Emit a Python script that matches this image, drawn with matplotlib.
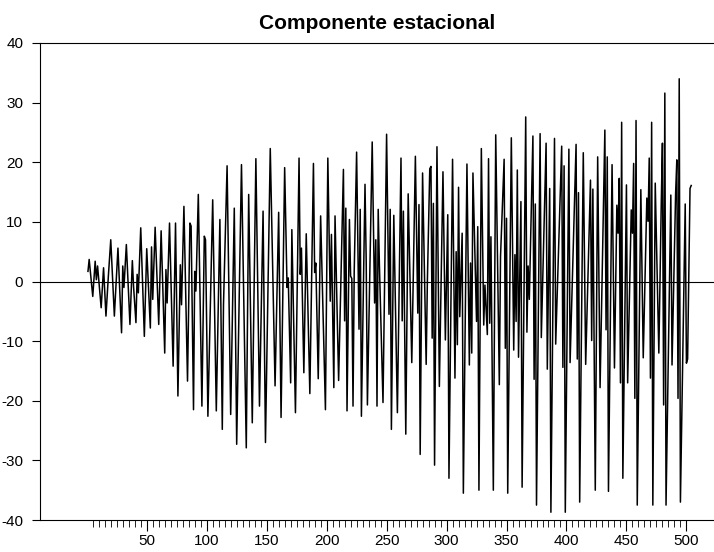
import matplotlib
matplotlib.use("Agg")
import matplotlib.pyplot as plt
from matplotlib.ticker import FixedLocator

plt.rcParams['font.family'] = ['Liberation Sans', 'DejaVu Sans']
plt.rcParams['axes.unicode_minus'] = False

# turning points of the seasonal component (observation number, value)
obs = [1, 2, 5, 7, 8, 9, 12, 14, 16, 18, 20, 23, 26, 29, 30, 31, 33, 36, 38, 39,
       41, 42, 43, 45, 48, 50, 53, 54, 55, 57, 60, 62, 65, 66, 67, 69, 72, 74, 76, 78,
       79, 81, 84, 86, 87, 89, 90, 91, 93, 96, 98, 99, 101, 105, 108, 111, 113, 114, 117, 120,
       123, 125, 129, 133, 135, 138, 141, 144, 147, 149, 153, 157, 160, 162, 165, 167, 168, 170, 171, 174,
       177, 178, 179, 181, 183, 186, 189, 190, 191, 193, 195, 199, 201, 203, 204, 206, 207, 210, 214, 215,
       216, 217, 219, 220, 221, 222, 223, 225, 227, 228, 229, 232, 233, 234, 238, 240, 241, 242, 243, 244,
       247, 250, 252, 253, 254, 256, 259, 262, 263, 264, 266, 268, 271, 274, 276, 277, 278, 280, 283, 284,
       286, 287, 288, 289, 290, 292, 294, 297, 299, 301, 302, 305, 307, 308, 309, 310, 311, 313, 314, 317,
       319, 320, 321, 322, 325, 326, 327, 329, 331, 332, 334, 335, 336, 337, 339, 341, 344, 345, 348, 349,
       350, 351, 354, 356, 357, 358, 359, 360, 362, 363, 366, 367, 368, 369, 372, 373, 374, 375, 378, 379,
       383, 384, 386, 387, 390, 391, 396, 397, 398, 399, 402, 403, 408, 409, 410, 411, 414, 416, 420, 421,
       422, 424, 426, 428, 432, 433, 434, 435, 438, 440, 442, 443, 444, 445, 446, 447, 450, 451, 454, 455,
       456, 457, 458, 459, 462, 464, 467, 468, 469, 470, 471, 472, 474, 477, 479, 480, 481, 482, 483, 487,
       488, 491, 492, 493, 494, 495, 499, 500, 501, 503, 504]
seasonal = [1.7, 3.7, -2.5, 3.4, 0.3, 2.6, -4.4, 2.3, -5.8, 0.9, 7.0, -5.8, 5.6, -8.6, 2.6, -1.0, 6.2, -7.2, 3.5, -0.8,
            -6.9, 1.2, -1.9, 9.0, -9.2, 5.5, -7.8, 5.8, -3.0, 9.1, -7.2, 8.5, -12.0, 2.0, -3.6, 9.8, -14.2, 9.8, -19.2, 2.8,
            -3.9, 12.6, -16.7, 9.8, 9.3, -21.5, 1.7, -1.6, 14.6, -20.9, 7.6, 7.0, -22.6, 13.7, -21.7, 10.4, -24.8, -3.9, 19.4, -22.3,
            12.3, -27.3, 19.6, -27.9, 14.6, -23.7, 20.6, -20.9, 11.8, -27.0, 22.3, -17.5, 11.6, -22.8, 19.1, -1.0, 0.6, -17.0, 8.7, -22.0,
            20.7, 1.2, 5.6, -15.3, 8.0, -18.8, 19.8, 1.5, 3.1, -16.3, 11.0, -21.5, 20.7, -3.3, 7.9, -17.8, 11.0, -16.6, 18.8, -6.6,
            12.3, -21.7, 10.4, 0.9, 0.5, -20.9, 1.7, 21.7, -8.0, 12.1, -22.6, 16.3, 3.4, -20.7, 23.4, -3.6, 7.0, -20.9, 12.1, 2.8,
            -20.3, 24.7, -5.5, 12.1, -24.8, 11.1, -22.0, 20.7, -6.6, 11.8, -25.6, 14.7, -13.6, 21.0, -5.3, 12.9, -29.0, 18.2, -13.9, 0.0,
            18.9, 19.3, -9.5, 13.1, -30.8, 22.6, -17.6, 18.4, -9.8, 11.2, -33.0, 20.5, -16.2, 5.0, -10.6, 15.8, -5.9, 8.1, -35.5, 19.7,
            -14.0, 3.1, -12.0, 18.2, -6.7, 9.2, -35.0, 22.3, -7.3, -0.6, -8.9, 20.6, -7.0, 7.5, -35.0, 24.6, -17.3, 4.2, 20.5, -11.2,
            10.6, -35.5, 24.1, -11.5, 4.5, -6.7, 18.7, -12.7, 13.4, -34.5, 27.6, -8.5, 2.6, -3.0, 24.4, -16.4, 13.0, -37.5, 24.8, -9.4,
            23.2, -14.7, 15.6, -38.7, 24.0, -10.5, 22.7, -14.4, 19.4, -38.7, 22.2, -13.6, 23.0, -13.0, 14.9, -37.0, 21.6, -13.9, 17.0, -9.9,
            15.5, -35.0, 20.9, -17.8, 25.4, -8.1, 20.9, -35.2, 19.6, -14.5, 12.8, 8.1, 17.3, -17.0, 26.7, -33.0, 16.2, -17.0, 12.0, 8.1,
            19.8, -19.6, 27.0, -37.5, 15.4, -12.8, 14.0, 10.1, 20.7, -16.2, 26.7, -37.5, 16.5, -12.0, 12.8, 23.2, -20.7, 31.6, -37.5, 14.5,
            -14.0, 14.8, 20.4, -19.6, 34.0, -37.0, 13.0, -13.7, -13.0, 15.6, 16.1]

y_ticks = [-40, -30, -20, -10, 0, 10, 20, 30, 40]
x_major = [50, 100, 150, 200, 250, 300, 350, 400, 450, 500]
x_minor = [v for v in range(5, 501, 5) if v % 50 != 0]

fig = plt.figure(figsize=(7.14, 5.52), dpi=100)
ax = fig.add_axes([40 / 714, 1 - 520 / 552, 1 - 40 / 714, (520 - 43) / 552])

ax.plot(obs, seasonal, color='black', lw=1.1)
ax.axhline(0, color='black', lw=0.8)

ax.set_xlim(-39, 523)
ax.set_ylim(-40, 40)
ax.spines['right'].set_visible(False)
for s in ['left', 'top', 'bottom']:
    ax.spines[s].set_linewidth(0.8)

ax.set_yticks(y_ticks)
ax.xaxis.set_major_locator(FixedLocator(x_major))
ax.xaxis.set_minor_locator(FixedLocator(x_minor))
ax.tick_params(axis='y', direction='out', length=6, width=0.8, labelsize=11, pad=6)
ax.tick_params(axis='x', which='major', direction='out', length=8, width=0.8, labelsize=11, pad=2)
ax.tick_params(axis='x', which='minor', direction='out', length=5, width=0.6)

ax.set_title("Componente estacional", fontsize=15, fontweight='bold', pad=10)

fig.savefig("out.png", dpi=100)
